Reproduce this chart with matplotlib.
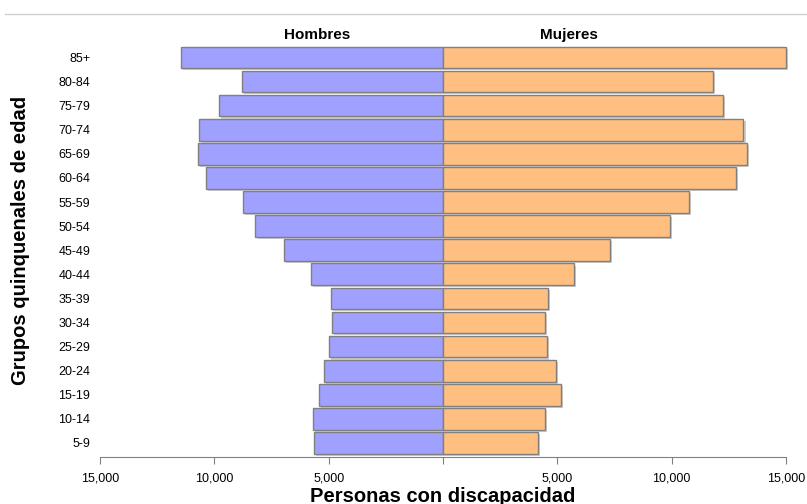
import matplotlib.pyplot as plt
import matplotlib.patheffects as pe
from matplotlib.lines import Line2D
from matplotlib.ticker import FixedLocator

plt.rcParams["font.family"] = ["Liberation Sans", "DejaVu Sans"]

age_groups = ["5-9", "10-14", "15-19", "20-24", "25-29", "30-34", "35-39",
              "40-44", "45-49", "50-54", "55-59", "60-64", "65-69", "70-74",
              "75-79", "80-84", "85+"]
hombres = [5630, 5670, 5410, 5190, 4990, 4860, 4900, 5770, 6950, 8200,
           8730, 10360, 10710, 10650, 9780, 8780, 11450]
mujeres = [4160, 4460, 5140, 4920, 4550, 4450, 4590, 5720, 7320, 9920,
           10760, 12830, 13290, 13140, 12250, 11810, 14990]
x_ticks = [-15000, -10000, -5000, 0, 5000, 10000, 15000]
x_tick_labels = ["15,000", "10,000", "5,000", "", "5,000", "10,000", "15,000"]

blue = "#a0a0ff"
orange = "#ffbf80"
edge = "#808080"

fig = plt.figure(figsize=(8.07, 5.04), dpi=100)
ax = fig.add_axes([0.1239, 0.0933, 0.8501, 0.8167])

y = list(range(len(age_groups)))
shadow = [pe.SimplePatchShadow(offset=(1.5, -1.5), shadow_rgbFace="#b0b0b0", alpha=0.6),
          pe.Normal()]
bars_h = ax.barh(y, [-v for v in hombres], height=0.9, color=blue,
                 edgecolor=edge, linewidth=1.0)
bars_m = ax.barh(y, mujeres, height=0.9, color=orange,
                 edgecolor=edge, linewidth=1.0, clip_on=False)
for b in list(bars_h) + list(bars_m):
    b.set_path_effects(shadow)

ax.set_xlim(-15000, 15000)
ax.set_ylim(-0.58, len(age_groups) - 0.5)
ax.xaxis.set_major_locator(FixedLocator(x_ticks))
ax.set_xticklabels(x_tick_labels, fontsize=9)
ax.set_yticks(y)
ax.set_yticklabels(age_groups, fontsize=9)
ax.tick_params(axis="y", length=0, pad=7)
ax.tick_params(axis="x", length=5, color=edge, pad=6)

for side in ["top", "right", "left"]:
    ax.spines[side].set_visible(False)
ax.spines["bottom"].set_color(edge)

ax.text(-5500, len(age_groups) - 0.35, "Hombres", ha="center", va="bottom",
        fontsize=11, fontweight="bold")
ax.text(5500, len(age_groups) - 0.35, "Mujeres", ha="center", va="bottom",
        fontsize=11, fontweight="bold")

ax.set_xlabel("Personas con discapacidad", fontsize=14.5, fontweight="bold", labelpad=2)
ax.set_ylabel("Grupos quinquenales de edad", fontsize=14.5, fontweight="bold")
ax.yaxis.set_label_coords(-0.102, 0.527)

fig.add_artist(Line2D([0.006, 1.0], [0.972, 0.972], transform=fig.transFigure,
                      color="#d0d0d0", linewidth=1.0))

fig.savefig("out.png", dpi=100)
